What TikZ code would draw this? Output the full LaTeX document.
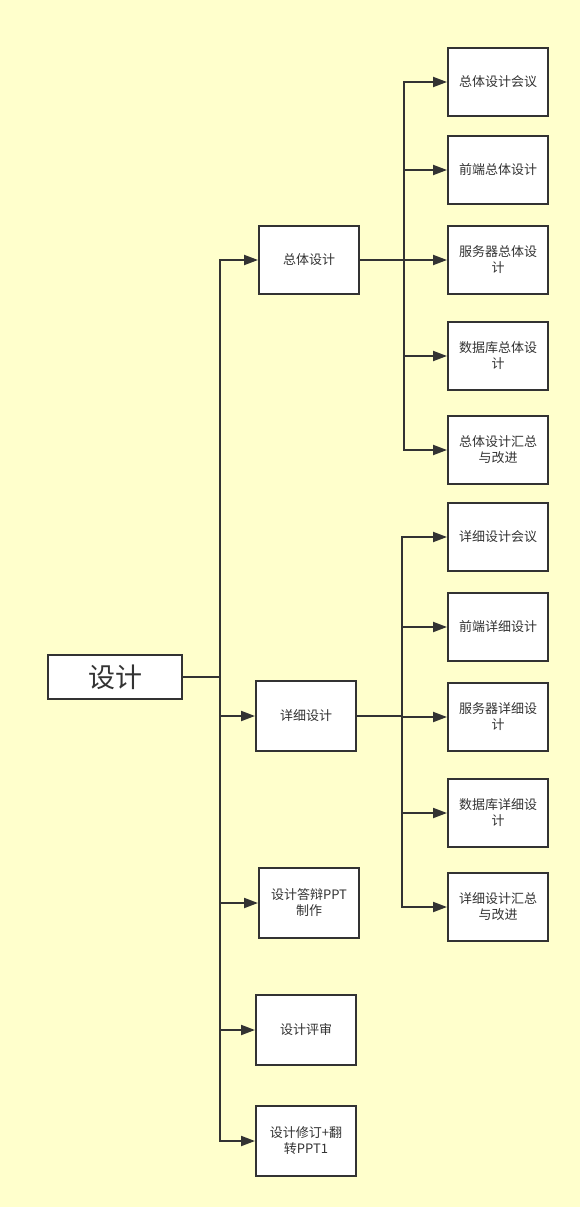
\documentclass[tikz,border=0pt]{standalone}
\usepackage{fontspec}
\setmainfont{Noto Sans CJK SC}
\usetikzlibrary{arrows.meta}
\definecolor{bg}{HTML}{FFFFCC}
\definecolor{ln}{HTML}{333333}
\begin{document}
\begin{tikzpicture}[x=1pt,y=-1pt,
  box/.style={draw=ln,line width=2pt,fill=white,minimum width=100pt,minimum height=68pt,inner sep=0pt,align=center,font=\fontsize{13}{16}\selectfont,text=ln},
  conn/.style={draw=ln,line width=2pt,-{Triangle[length=14pt,width=10pt]}},
  plain/.style={draw=ln,line width=2pt}]
\fill[bg] (0,0) rectangle (580,1207);
\useasboundingbox (0,0) rectangle (580,1207);
\node[box,minimum width=134pt,minimum height=44pt,font=\fontsize{27}{30}\selectfont] (root) at (115,677) {设计};
\node[box] (zt) at (309,260) {总体设计};
\node[box,minimum height=70pt] (xx) at (306,716) {详细设计};
\node[box,minimum height=70pt] (ppt) at (309,903) {设计答辩PPT\\制作};
\node[box,minimum height=70pt] (ps) at (306,1030) {设计评审};
\node[box,minimum height=70pt] (xd) at (306,1141) {设计修订+翻\\转PPT1};
\node[box] (a1) at (498,82) {总体设计会议};
\node[box] (a2) at (498,170) {前端总体设计};
\node[box] (a3) at (498,260) {服务器总体设\\计};
\node[box] (a4) at (498,356) {数据库总体设\\计};
\node[box] (a5) at (498,450) {总体设计汇总\\与改进};
\node[box] (b1) at (498,537) {详细设计会议};
\node[box] (b2) at (498,627) {前端详细设计};
\node[box] (b3) at (498,717) {服务器详细设\\计};
\node[box] (b4) at (498,813) {数据库详细设\\计};
\node[box] (b5) at (498,907) {详细设计汇总\\与改进};
\coordinate (r) at (220,677);
\coordinate (z) at (404,260);
\coordinate (x) at (402,716);
\foreach \t in {zt,xx,ppt,ps,xd}{
  \draw[conn] (root.east) -| (r) |- (\t.west);
}
\foreach \t in {a1,a2,a3,a4,a5}{
  \draw[conn] (zt.east) -| (z) |- (\t.west);
}
\foreach \t in {b1,b2,b3,b4,b5}{
  \draw[conn] (xx.east) -| (x) |- (\t.west);
}
\end{tikzpicture}
\end{document}
